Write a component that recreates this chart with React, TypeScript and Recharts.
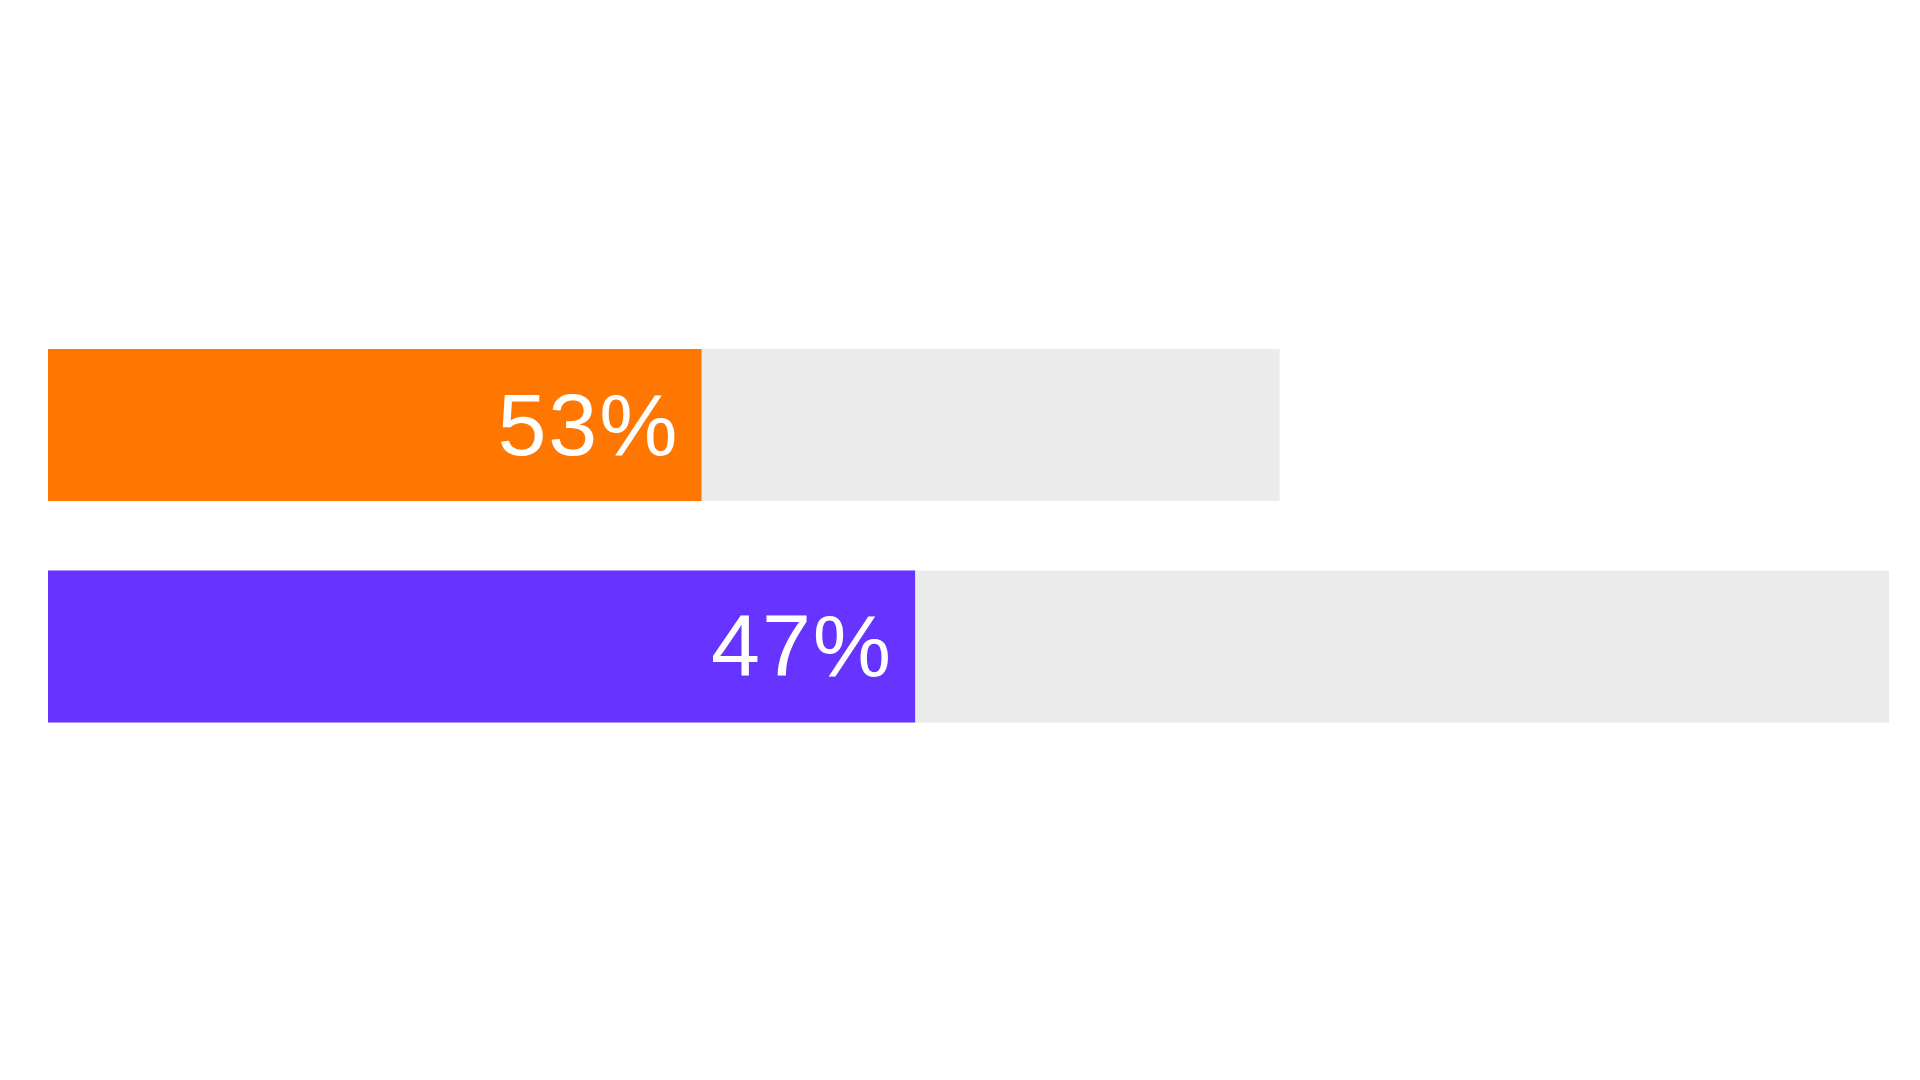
import { BarChart, Bar, XAxis, YAxis, Cell, LabelList } from 'recharts'

// two progress-style bars, each with its own grey track
const categories = ['Option A', 'Option B']
const shares = [53, 47]
const trackLengths = [66.9, 100]
const barLengths = [35.5, 47.1]
const colors = ['#ff7700', '#6633ff']

const data = categories.map((name, i) => ({
  name,
  share: shares[i],
  track: trackLengths[i],
  amount: barLengths[i],
}))

const renderLabel = (props: any) => {
  const { x, y, width, height, value } = props
  return (
    <text
      x={Number(x) + Number(width) - 22}
      y={Number(y) + Number(height) / 2 - 1}
      textAnchor='end'
      dominantBaseline='central'
      fill='#ffffff'
      fontSize={88}
      letterSpacing={2}
      fontFamily='"Liberation Sans", Arial, sans-serif'
    >
      {value}%
    </text>
  )
}

const App = () => {
  return (
    <div
      style={{
        position: 'absolute',
        left: 0,
        top: 0,
        width: 1920,
        height: 1080,
        background: '#ffffff',
      }}
    >
      <BarChart
        width={1920}
        height={1080}
        data={data}
        layout='vertical'
        margin={{ top: 314, right: 31, bottom: 323, left: 48 }}
        barGap={-152}
      >
        <XAxis type='number' domain={[0, 100]} hide />
        <YAxis type='category' dataKey='name' hide />
        <Bar
          dataKey='track'
          fill='#ebebeb'
          barSize={152}
          isAnimationActive={false}
        />
        <Bar dataKey='amount' barSize={152} isAnimationActive={false}>
          {data.map((d, i) => (
            <Cell key={d.name} fill={colors[i]} />
          ))}
          <LabelList dataKey='share' content={renderLabel} />
        </Bar>
      </BarChart>
    </div>
  )
}

export default App
